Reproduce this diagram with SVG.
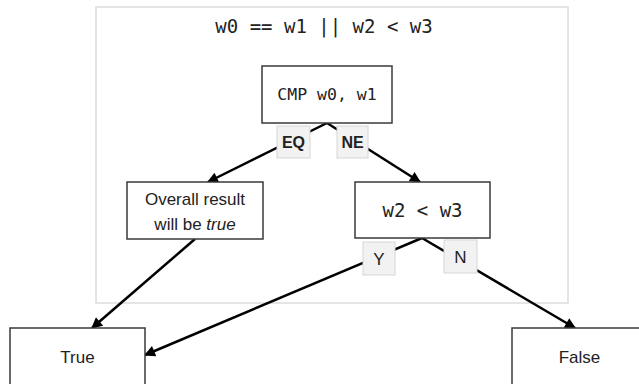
<svg xmlns="http://www.w3.org/2000/svg" width="639" height="384" viewBox="0 0 639 384">
  <style>
    .box { fill: #ffffff; stroke: #3a3a3a; stroke-width: 1.5; }
    .lbl { fill: #f2f2f2; stroke: #d6d6d6; stroke-width: 1; }
    .mono { font-family: "DejaVu Sans Mono", "Liberation Mono", monospace; fill: #222; text-anchor: middle; }
    .sans { font-family: "Liberation Sans", Arial, sans-serif; font-size: 17px; fill: #222; text-anchor: middle; }
    .bold { font-family: "Liberation Sans", Arial, sans-serif; font-size: 16px; font-weight: bold; fill: #222; text-anchor: middle; }
    .edge { fill: none; stroke: #000; stroke-width: 2.5; marker-end: url(#arrow); }
  </style>
  <defs>
    <marker id="arrow" viewBox="0 0 10 10" refX="9" refY="5" markerWidth="12" markerHeight="11" markerUnits="userSpaceOnUse" orient="auto">
      <path d="M0,0 L10,5 L0,10 z" fill="#000"/>
    </marker>
  </defs>

  <g id="container">
    <rect x="96" y="7" width="472" height="296" fill="#ffffff" stroke="#dcdcdc" stroke-width="1.5"/>
    <text class="mono" x="324" y="33" font-size="19">w0 == w1 || w2 &lt; w3</text>
  </g>

  <g id="connectors">
    <path class="edge" d="M327,123 L208,182"/>
    <path class="edge" d="M327,123 L420,182"/>
    <path class="edge" d="M195,239 L92,328"/>
    <path class="edge" d="M422,238 L145,355"/>
    <path class="edge" d="M422,238 L575,328"/>
    <g id="label-eq">
      <rect class="lbl" x="277" y="126" width="33" height="32"/>
      <text class="bold" x="293.5" y="148">EQ</text>
    </g>
    <g id="label-ne">
      <rect class="lbl" x="337" y="126" width="31" height="32"/>
      <text class="bold" x="352.5" y="148">NE</text>
    </g>
    <g id="label-y">
      <rect class="lbl" x="363" y="242" width="32" height="33"/>
      <text class="sans" x="379" y="265">Y</text>
    </g>
    <g id="label-n">
      <rect class="lbl" x="444" y="240" width="33" height="33"/>
      <text class="sans" x="460.5" y="263">N</text>
    </g>
  </g>

  <g id="cmp">
    <rect class="box" x="262" y="66" width="130" height="57"/>
    <text class="mono" x="327" y="100" font-size="16.5">CMP w0, w1</text>
  </g>

  <g id="overall">
    <rect class="box" x="127" y="182" width="136" height="57"/>
    <text class="sans" x="195" y="205">Overall result</text>
    <text class="sans" x="195" y="230">will be <tspan font-style="italic">true</tspan></text>
  </g>

  <g id="w2w3">
    <rect class="box" x="355" y="182" width="135" height="56"/>
    <text class="mono" x="422.5" y="217" font-size="19">w2 &lt; w3</text>
  </g>

  <g id="true">
    <rect class="box" x="10" y="328" width="135" height="58"/>
    <text class="sans" x="77.5" y="363">True</text>
  </g>

  <g id="false">
    <rect class="box" x="512" y="328" width="135" height="58"/>
    <text class="sans" x="579.5" y="363">False</text>
  </g>
</svg>
